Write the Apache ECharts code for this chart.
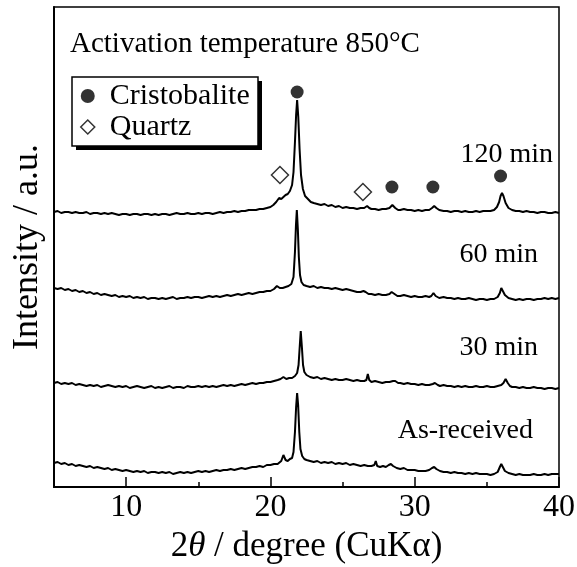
<!DOCTYPE html>
<html>
<head>
<meta charset="utf-8">
<script src="https://cdn.jsdelivr.net/npm/echarts@6/dist/echarts.min.js"></script>
<style>html,body{margin:0;padding:0;background:#fff}#c{width:577px;height:567px}</style>
</head>
<body>
<div id="c"></div>
<script>
// 2θ (degree) vs intensity (a.u., with vertical offsets as in the figure)
const asReceived = [[5.0,24],[5.25,25],[5.5,23],[5.75,24],[6.0,22],[6.25,23],[6.5,21],[6.75,22],[7.0,21],[7.25,20],[7.5,21],[7.75,19],[8.0,20],[8.25,19],[8.5,18],[8.75,19],[9.0,17],[9.25,18],[9.5,17],[9.75,16],[10.0,17],[10.25,16],[10.5,15],[10.75,16],[11.0,15],[11.25,16],[11.5,14],[11.75,15],[12.0,15],[12.25,14],[12.5,15],[12.75,14],[13.0,15],[13.25,13],[13.5,14],[13.75,15],[14.0,14],[14.25,15],[14.5,14],[14.75,15],[15.0,16],[15.25,15],[15.5,16],[15.75,15],[16.0,16],[16.25,17],[16.5,16],[16.75,17],[17.0,17],[17.25,18],[17.5,17],[17.75,18],[18.0,19],[18.25,18],[18.5,19],[18.75,20],[19.0,20],[19.25,21],[19.5,20],[19.75,22],[20.0,22],[20.25,23],[20.5,23],[20.75,26],[20.9,32],[21.05,27],[21.2,26],[21.35,28],[21.5,29],[21.6,35],[21.7,55],[21.78,80],[21.85,94],[21.92,82],[22.0,55],[22.08,38],[22.2,31],[22.35,28],[22.5,27],[22.75,26],[23.0,25],[23.25,26],[23.5,24],[23.75,25],[24.0,24],[24.25,25],[24.5,23],[24.75,24],[25.0,23],[25.25,24],[25.5,22],[25.75,23],[26.0,22],[26.25,21],[26.5,22],[26.75,21],[27.0,21],[27.2,22],[27.3,26],[27.4,21],[27.6,20],[27.8,21],[28.0,20],[28.2,22],[28.35,23],[28.5,21],[28.75,19],[29.0,18],[29.25,19],[29.5,17],[29.75,17],[30.0,17],[30.25,16],[30.5,16],[30.75,16],[31.0,17],[31.2,19],[31.35,20],[31.5,18],[31.75,16],[32.0,15],[32.25,15],[32.5,14],[32.75,15],[33.0,14],[33.25,14],[33.5,13],[33.75,14],[34.0,13],[34.25,14],[34.5,13],[34.75,13],[35.0,13],[35.25,12],[35.5,13],[35.75,15],[35.9,20],[36.0,23],[36.1,21],[36.25,16],[36.5,14],[36.75,13],[37.0,12],[37.25,13],[37.5,12],[37.75,12],[38.0,12],[38.25,13],[38.5,12],[38.75,12],[39.0,13],[39.25,12],[39.5,13],[39.75,13],[40.0,13]];

const min30 = [[5.0,104],[5.25,105],[5.5,103],[5.75,104],[6.0,103],[6.25,104],[6.5,102],[6.75,103],[7.0,102],[7.25,101],[7.5,102],[7.75,101],[8.0,102],[8.25,100],[8.5,101],[8.75,102],[9.0,101],[9.25,100],[9.5,101],[9.75,100],[10.0,101],[10.25,99],[10.5,100],[10.75,101],[11.0,100],[11.25,99],[11.5,100],[11.75,101],[12.0,99],[12.25,100],[12.5,99],[12.75,100],[13.0,101],[13.25,99],[13.5,100],[13.75,100],[14.0,99],[14.25,101],[14.5,100],[14.75,100],[15.0,101],[15.25,100],[15.5,101],[15.75,100],[16.0,101],[16.25,100],[16.5,101],[16.75,102],[17.0,101],[17.25,102],[17.5,101],[17.75,102],[18.0,103],[18.25,102],[18.5,103],[18.75,104],[19.0,103],[19.25,104],[19.5,104],[19.75,105],[20.0,105],[20.25,106],[20.5,107],[20.7,108],[20.9,110],[21.1,108],[21.3,109],[21.5,109],[21.7,111],[21.85,114],[21.95,122],[22.02,138],[22.1,156],[22.18,140],[22.26,122],[22.35,115],[22.5,112],[22.75,110],[23.0,109],[23.25,110],[23.5,108],[23.75,109],[24.0,108],[24.25,107],[24.5,108],[24.75,107],[25.0,107],[25.25,108],[25.5,107],[25.75,106],[26.0,107],[26.25,106],[26.5,106],[26.65,107],[26.75,113],[26.85,107],[27.0,105],[27.25,106],[27.5,105],[27.75,104],[28.0,105],[28.25,105],[28.5,106],[28.65,106],[28.85,104],[29.0,104],[29.25,103],[29.5,104],[29.75,103],[30.0,103],[30.25,102],[30.5,103],[30.75,102],[31.0,102],[31.25,103],[31.4,104],[31.6,102],[31.75,101],[32.0,102],[32.25,101],[32.5,101],[32.75,100],[33.0,101],[33.25,100],[33.5,101],[33.75,100],[34.0,100],[34.25,101],[34.5,100],[34.75,100],[35.0,101],[35.25,100],[35.5,100],[35.75,101],[36.0,102],[36.15,104],[36.3,108],[36.45,104],[36.6,101],[36.75,100],[37.0,100],[37.25,99],[37.5,100],[37.75,99],[38.0,99],[38.25,100],[38.5,99],[38.75,99],[39.0,98],[39.25,99],[39.5,99],[39.75,98],[40.0,99]];

const min60 = [[5.0,199],[5.25,198],[5.5,199],[5.75,197],[6.0,198],[6.25,196],[6.5,197],[6.75,195],[7.0,196],[7.25,194],[7.5,195],[7.75,193],[8.0,194],[8.25,192],[8.5,193],[8.75,192],[9.0,191],[9.25,192],[9.5,190],[9.75,191],[10.0,190],[10.25,191],[10.5,189],[10.75,190],[11.0,189],[11.25,190],[11.5,188],[11.75,189],[12.0,189],[12.25,188],[12.5,189],[12.75,188],[13.0,189],[13.25,190],[13.5,188],[13.75,189],[14.0,189],[14.25,190],[14.5,189],[14.75,190],[15.0,190],[15.25,189],[15.5,190],[15.75,191],[16.0,190],[16.25,191],[16.5,190],[16.75,191],[17.0,192],[17.25,191],[17.5,192],[17.75,193],[18.0,192],[18.25,193],[18.5,194],[18.75,193],[19.0,194],[19.25,195],[19.5,195],[19.75,196],[20.0,196],[20.25,198],[20.45,201],[20.65,199],[20.85,199],[21.05,200],[21.25,201],[21.45,203],[21.6,210],[21.7,235],[21.77,262],[21.83,277],[21.9,258],[21.97,230],[22.05,212],[22.15,205],[22.3,202],[22.5,201],[22.75,200],[23.0,201],[23.25,199],[23.5,200],[23.75,199],[24.0,199],[24.25,198],[24.5,199],[24.75,198],[25.0,197],[25.25,198],[25.5,197],[25.75,196],[26.0,195],[26.25,195],[26.45,196],[26.6,195],[26.8,193],[27.0,193],[27.25,192],[27.5,193],[27.75,192],[28.0,192],[28.25,193],[28.4,195],[28.6,193],[28.8,191],[29.0,191],[29.25,192],[29.5,191],[29.75,190],[30.0,191],[30.25,190],[30.5,190],[30.75,191],[31.0,190],[31.15,191],[31.3,194],[31.45,191],[31.7,189],[32.0,190],[32.25,189],[32.5,189],[32.75,188],[33.0,189],[33.25,188],[33.5,188],[33.75,189],[34.0,188],[34.25,187],[34.5,188],[34.75,188],[35.0,187],[35.25,188],[35.5,188],[35.75,190],[35.9,194],[36.0,199],[36.1,197],[36.25,192],[36.5,189],[36.75,188],[37.0,187],[37.25,188],[37.5,187],[37.75,188],[38.0,188],[38.25,187],[38.5,188],[38.75,188],[39.0,189],[39.25,188],[39.5,189],[39.75,188],[40.0,189]];

const min120 = [[5.0,275],[5.25,276],[5.5,274],[5.75,275],[6.0,275],[6.25,274],[6.5,275],[6.75,274],[7.0,274],[7.25,275],[7.5,273],[7.75,274],[8.0,274],[8.25,273],[8.5,274],[8.75,273],[9.0,274],[9.25,273],[9.5,272],[9.75,273],[10.0,273],[10.25,272],[10.5,273],[10.75,273],[11.0,272],[11.25,273],[11.5,273],[11.75,272],[12.0,273],[12.25,272],[12.5,273],[12.75,273],[13.0,272],[13.25,273],[13.5,274],[13.75,273],[14.0,273],[14.25,274],[14.5,273],[14.75,273],[15.0,274],[15.25,273],[15.5,274],[15.75,274],[16.0,273],[16.25,274],[16.5,275],[16.75,274],[17.0,275],[17.25,275],[17.5,276],[17.75,275],[18.0,276],[18.25,276],[18.5,277],[18.75,277],[19.0,277],[19.25,278],[19.5,278],[19.75,279],[20.0,280],[20.2,282],[20.4,285],[20.6,289],[20.75,288],[20.9,290],[21.05,292],[21.2,293],[21.35,296],[21.5,302],[21.6,315],[21.7,345],[21.78,372],[21.85,387],[21.93,370],[22.02,338],[22.12,312],[22.25,298],[22.4,291],[22.6,288],[22.8,285],[23.0,284],[23.25,283],[23.5,282],[23.75,283],[24.0,281],[24.25,282],[24.5,280],[24.75,281],[25.0,279],[25.25,280],[25.5,279],[25.75,279],[26.0,278],[26.25,279],[26.5,279],[26.7,281],[26.85,279],[27.0,278],[27.25,278],[27.5,277],[27.75,278],[28.0,278],[28.25,279],[28.45,282],[28.65,279],[28.85,277],[29.0,277],[29.25,278],[29.5,277],[29.75,277],[30.0,276],[30.25,277],[30.5,276],[30.75,277],[31.0,277],[31.2,279],[31.35,281],[31.5,279],[31.7,277],[32.0,276],[32.25,276],[32.5,275],[32.75,276],[33.0,276],[33.25,275],[33.5,276],[33.75,275],[34.0,275],[34.25,276],[34.5,275],[34.75,276],[35.0,276],[35.25,276],[35.5,277],[35.7,280],[35.85,285],[35.95,291],[36.05,294],[36.15,291],[36.3,284],[36.5,279],[36.75,277],[37.0,276],[37.25,276],[37.5,275],[37.75,276],[38.0,275],[38.25,275],[38.5,274],[38.75,275],[39.0,275],[39.25,274],[39.5,274],[39.75,275],[40.0,274]];

const cristobaliteMarks = [[21.85,395],[28.42,300],[31.26,300],[35.95,311]];
const quartzMarks = [[20.66,312],[26.41,295]];

const xMajorTicks = [10, 20, 30, 40];
const xMinorTicks = [15, 25, 35];
const traceLabels = ['120 min', '60 min', '30 min', 'As-received'];
const phaseNames = ['Cristobalite', 'Quartz'];
const annotation = 'Activation temperature 850°C';

const FONT = 'Liberation Serif';
const chart = echarts.init(document.getElementById('c'), null, {renderer: 'canvas'});

function lineSeries(name, data) {
  return {
    name: name, type: 'line', data: data, showSymbol: false, symbol: 'none',
    lineStyle: {color: '#000', width: 2}, itemStyle: {color: '#000'},
    animation: false, silent: true, z: 2
  };
}

const option = {
  animation: false,
  grid: {left: 54, right: 18, top: 7, bottom: 80, containLabel: false, outerBoundsMode: 'none',
         show: true, borderColor: '#000', borderWidth: 1.5, backgroundColor: 'transparent'},
  xAxis: [{
    type: 'value', min: 5, max: 40, position: 'bottom',
    axisLine: {show: true, lineStyle: {color: '#000', width: 2}},
    axisTick: {show: true, inside: true, length: 10, customValues: xMajorTicks, lineStyle: {color: '#000', width: 1.5}},
    axisLabel: {customValues: xMajorTicks, color: '#000', fontFamily: FONT, fontSize: 32, margin: 5},
    splitLine: {show: false},
    name: '2{i|θ} / degree (CuKα)', nameLocation: 'middle', nameGap: 41,
    nameTextStyle: {color: '#000', fontFamily: FONT, fontSize: 35, rich: {i: {fontStyle: 'italic', fontFamily: FONT, fontSize: 35, color: '#000'}}}
  }, {
    type: 'value', min: 5, max: 40, position: 'bottom', gridIndex: 0,
    axisLine: {show: false},
    axisTick: {show: true, inside: true, length: 5, customValues: xMinorTicks, lineStyle: {color: '#000', width: 1.5}},
    axisLabel: {show: false}, splitLine: {show: false}
  }],
  yAxis: {
    type: 'value', min: 0, max: 480,
    axisLine: {show: true, lineStyle: {color: '#000', width: 2}},
    axisTick: {show: false}, axisLabel: {show: false}, splitLine: {show: false},
    name: 'Intensity / a.u.', nameLocation: 'middle', nameGap: 8, nameRotate: 90,
    nameTextStyle: {color: '#000', fontFamily: FONT, fontSize: 36}
  },
  legend: {
    data: [
      {name: phaseNames[0], icon: 'circle', itemStyle: {color: '#000', borderWidth: 0}},
      {name: phaseNames[1], icon: 'diamond', itemStyle: {color: '#fff', borderColor: '#000', borderWidth: 1.5}}
    ],
    orient: 'vertical', left: 72, top: 78,
    itemWidth: 14, itemHeight: 14, itemGap: 1,
    padding: [3, 6, 3, 8],
    backgroundColor: 'transparent', borderWidth: 0,
    textStyle: {color: '#000', fontFamily: FONT, fontSize: 30, padding: [0, 0, 0, 10]},
    selectedMode: false, z: 10
  },
  series: [
    lineSeries(traceLabels[3], asReceived),
    lineSeries(traceLabels[2], min30),
    lineSeries(traceLabels[1], min60),
    lineSeries(traceLabels[0], min120),
    {name: phaseNames[0], type: 'scatter', data: cristobaliteMarks, symbol: 'circle', symbolSize: 13,
     itemStyle: {color: '#000'}, silent: true, z: 5},
    {name: phaseNames[1], type: 'scatter', data: quartzMarks, symbol: 'diamond', symbolSize: 17,
     itemStyle: {color: '#fff', borderColor: '#000', borderWidth: 1.5}, silent: true, z: 5}
  ],
  graphic: [
    {type: 'rect', shape: {x: 76, y: 81, width: 186, height: 69}, style: {fill: '#000'}, z: 6, silent: true},
    {type: 'rect', shape: {x: 72, y: 77, width: 186, height: 69}, style: {fill: '#fff', stroke: '#000', lineWidth: 1.5}, z: 7, silent: true},
    {type: 'text', left: 70, top: 30, style: {text: annotation, font: '29px "Liberation Serif"', fill: '#000'}},
    {type: 'text', right: 24, top: 141, style: {text: traceLabels[0], font: '28px "Liberation Serif"', fill: '#000'}},
    {type: 'text', right: 39, top: 241, style: {text: traceLabels[1], font: '28px "Liberation Serif"', fill: '#000'}},
    {type: 'text', right: 39, top: 334, style: {text: traceLabels[2], font: '28px "Liberation Serif"', fill: '#000'}},
    {type: 'text', right: 44, top: 417, style: {text: traceLabels[3], font: '28px "Liberation Serif"', fill: '#000'}}
  ]
};
chart.setOption(option);
</script>
</body>
</html>
